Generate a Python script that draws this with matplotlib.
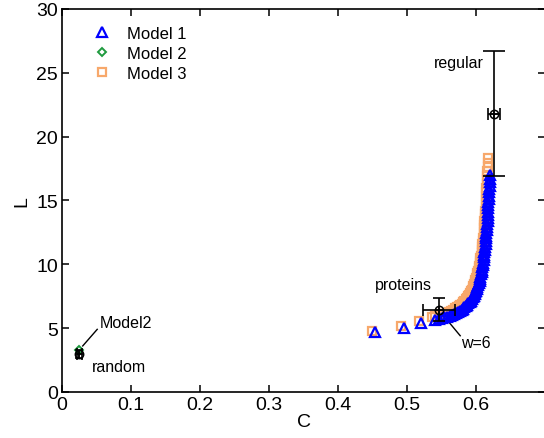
import matplotlib
matplotlib.use("Agg")
import matplotlib.pyplot as plt

plt.rcParams['font.family'] = ['Liberation Sans', 'DejaVu Sans']

# Model 1 (blue triangles)
m1_c = [0.454, 0.495, 0.520, 0.541, 0.546, 0.550, 0.554, 0.558, 0.562, 0.565,
        0.568, 0.571, 0.574, 0.576, 0.579, 0.581, 0.583, 0.585, 0.587, 0.589,
        0.591, 0.592, 0.594, 0.595, 0.597, 0.598, 0.599, 0.600, 0.601, 0.602,
        0.603, 0.604, 0.605, 0.606, 0.606, 0.607, 0.608, 0.609, 0.609, 0.610,
        0.610, 0.611, 0.611, 0.612, 0.612, 0.613, 0.613, 0.614, 0.614, 0.615,
        0.615, 0.615, 0.616, 0.616, 0.616, 0.617, 0.617, 0.617, 0.618, 0.618,
        0.618, 0.618, 0.619, 0.619, 0.619, 0.619, 0.620, 0.620, 0.620, 0.620]
m1_l = [4.67, 5.00, 5.38, 5.66, 5.72, 5.78, 5.84, 5.90, 5.96, 6.03,
        6.10, 6.18, 6.26, 6.34, 6.43, 6.52, 6.62, 6.72, 6.82, 6.93,
        7.04, 7.15, 7.27, 7.40, 7.53, 7.66, 7.80, 7.93, 8.08, 8.22,
        8.37, 8.52, 8.68, 8.85, 9.02, 9.20, 9.38, 9.56, 9.75, 9.94,
        10.13, 10.33, 10.53, 10.73, 10.94, 11.15, 11.36, 11.58, 11.80, 12.02,
        12.25, 12.47, 12.70, 12.93, 13.16, 13.40, 13.64, 13.88, 14.12, 14.37,
        14.62, 14.87, 15.12, 15.38, 15.64, 15.90, 16.16, 16.43, 16.70, 16.97]

# Model 2 (green diamond)
m2_c = [0.025]
m2_l = [3.3]

# Model 3 (orange squares)
m3_c = [0.449, 0.491, 0.517, 0.536, 0.541, 0.546, 0.550, 0.554, 0.558, 0.561,
        0.564, 0.567, 0.570, 0.572, 0.575, 0.577, 0.579, 0.581, 0.583, 0.585,
        0.587, 0.588, 0.590, 0.591, 0.593, 0.594, 0.595, 0.596, 0.597, 0.598,
        0.599, 0.600, 0.601, 0.602, 0.603, 0.604, 0.604, 0.605, 0.606, 0.606,
        0.607, 0.608, 0.608, 0.609, 0.609, 0.610, 0.610, 0.611, 0.611, 0.612,
        0.612, 0.612, 0.613, 0.613, 0.613, 0.614, 0.614, 0.614, 0.615, 0.615,
        0.615, 0.616, 0.616, 0.616, 0.616, 0.617, 0.617, 0.617]
m3_l = [4.80, 5.19, 5.53, 5.85, 5.92, 6.00, 6.07, 6.14, 6.21, 6.29,
        6.37, 6.45, 6.54, 6.63, 6.72, 6.82, 6.92, 7.03, 7.14, 7.25,
        7.37, 7.49, 7.62, 7.75, 7.88, 8.02, 8.16, 8.31, 8.46, 8.62,
        8.78, 8.95, 9.12, 9.30, 9.48, 9.67, 9.86, 10.06, 10.26, 10.47,
        10.68, 10.90, 11.12, 11.35, 11.58, 11.82, 12.06, 12.31, 12.56, 12.82,
        13.08, 13.35, 13.62, 13.90, 14.18, 14.47, 14.76, 15.06, 15.36, 15.67,
        15.98, 16.30, 16.62, 16.95, 17.28, 17.62, 17.96, 18.30]

# reference networks: C, L, C error, L error
ref_names = ['random', 'proteins', 'regular']
ref_c = [0.025, 0.546, 0.626]
ref_l = [2.97, 6.45, 21.8]
ref_cerr = [0.004, 0.0235, 0.0087]
ref_lerr = [0.35, 0.89, 4.9]

BLUE = '#0000ff'
GREEN = '#1f9a3e'
ORANGE = '#f7a86b'

fig = plt.figure(figsize=(5.44, 4.39), dpi=100)
ax = fig.add_axes([0.114, 0.105, 0.888, 0.8724])

ax.plot(m3_c, m3_l, 's', ls='none', mfc='none', mec=ORANGE, ms=6, mew=1.6,
        label='Model 3', zorder=2)
ax.plot(m1_c, m1_l, '^', ls='none', mfc='none', mec=BLUE, ms=6.5, mew=1.6,
        label='Model 1', zorder=3)
ax.plot(m2_c, m2_l, 'D', ls='none', mfc='none', mec=GREEN, ms=4.5, mew=1.4,
        label='Model 2', zorder=3)

caps = [3, 4, 8]
for c, l, ce, le, cs in zip(ref_c, ref_l, ref_cerr, ref_lerr, caps):
    ax.errorbar(c, l, yerr=le, fmt='none', ecolor='k', elinewidth=1.2,
                capsize=cs, capthick=1.2, zorder=4)
    ax.errorbar(c, l, xerr=ce, fmt='none', ecolor='k', elinewidth=1.2,
                capsize=4, capthick=1.2, zorder=4)
    ax.plot(c, l, 'o', mfc='none', mec='k', ms=6, mew=1.1, zorder=5)
    ax.plot(c, l, '+', mec='k', ms=6, mew=1.1, zorder=5)

# annotations
ax.text(0.043, 2.0, 'random', fontsize=11.5, va='center')
ax.text(0.054, 5.4, 'Model2', fontsize=11.5, va='center')
ax.plot([0.03, 0.051], [3.6, 4.9], color='k', lw=1)
ax.text(0.453, 8.4, 'proteins', fontsize=11.5, va='center')
ax.text(0.611, 25.8, 'regular', fontsize=11.5, va='center', ha='right')
ax.text(0.578, 3.9, 'w=6', fontsize=11.5, va='center')
ax.plot([0.557, 0.577], [5.7, 4.4], color='k', lw=1)

# legend order: Model 1, Model 2, Model 3
h, lab = ax.get_legend_handles_labels()
order = [1, 2, 0]
ax.legend([h[i] for i in order], [lab[i] for i in order], loc='upper left',
          frameon=False, fontsize=12, handlelength=1.0, handletextpad=1.0,
          labelspacing=0.3, borderaxespad=0.6, bbox_to_anchor=(0.03, 1.0))

ax.set_xlim(0, 0.7)
ax.set_ylim(0, 30)
ax.set_xticks([0, 0.1, 0.2, 0.3, 0.4, 0.5, 0.6, 0.7])
ax.set_xticklabels(['0', '0.1', '0.2', '0.3', '0.4', '0.5', '0.6', ''])
ax.set_yticks([0, 5, 10, 15, 20, 25, 30])
ax.tick_params(direction='in', top=True, right=True, labelsize=14, length=5,
               width=1.1)
ax.tick_params(axis='x', pad=3)
ax.tick_params(axis='y', pad=3)
for s in ax.spines.values():
    s.set_linewidth(1.2)
ax.set_xlabel('C', fontsize=14, labelpad=0)
ax.set_ylabel('L', fontsize=14, labelpad=4)

fig.savefig('out.png', dpi=100)
